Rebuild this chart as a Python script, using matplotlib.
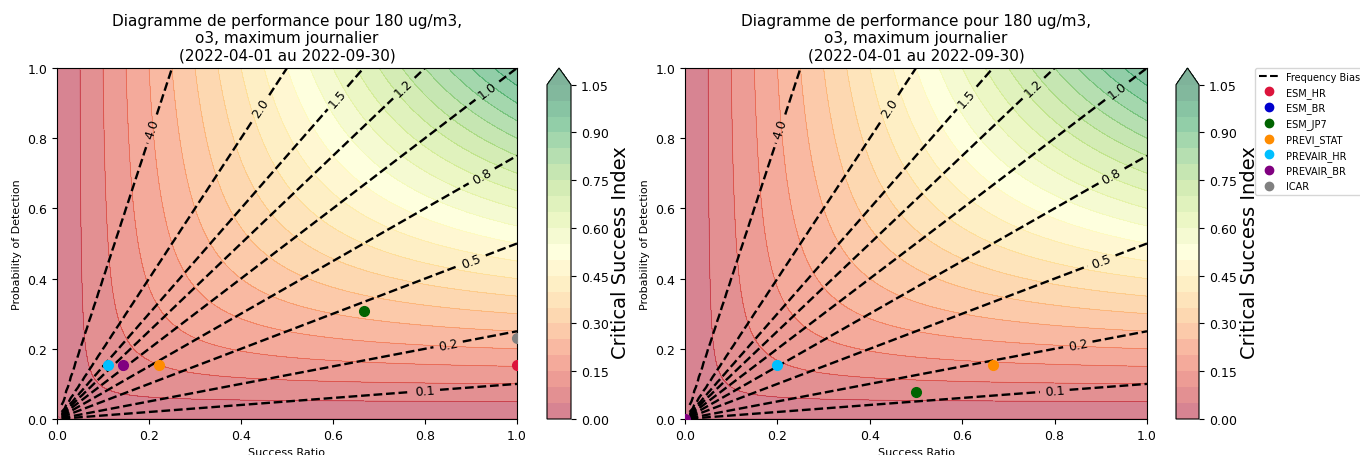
import numpy as np
import matplotlib
matplotlib.use("Agg")
from matplotlib import pyplot as plt
from matplotlib.lines import Line2D

# models and scores (success ratio, probability of detection) for both panels
models = ["ESM_HR", "ESM_BR", "ESM_JP7", "PREVI_STAT", "PREVAIR_HR", "PREVAIR_BR", "ICAR"]
colors = ["crimson", "mediumblue", "darkgreen", "darkorange", "deepskyblue", "purple", "gray"]

sr_left = [1.0, np.nan, 0.667, 0.222, 0.111, 0.143, 1.0]
pod_left = [0.154, np.nan, 0.308, 0.154, 0.154, 0.154, 0.231]

sr_right = [np.nan, np.nan, 0.5, 0.667, 0.2, 0.0, np.nan]
pod_right = [np.nan, np.nan, 0.077, 0.154, 0.154, 0.0, np.nan]

csi_levels = np.arange(0, 1.1, 0.05)
bias_levels = [0.1, 0.25, 0.5, 0.75, 1.0, 1.25, 1.5, 2.0, 4.0]
label_pos = [(0.80, 0.085), (0.85, 0.214), (0.90, 0.456), (0.92, 0.70),
             (0.93, 0.945), (0.756, 0.94), (0.60, 0.926), (0.44, 0.89), (0.20, 0.83)]

title = "Diagramme de performance pour 180 ug/m3,\no3, maximum journalier\n(2022-04-01 au 2022-09-30)"

grid = np.arange(0, 1.01, 0.01)
sr_g, pod_g = np.meshgrid(grid, grid)
with np.errstate(divide="ignore", invalid="ignore"):
    bias = np.ma.masked_invalid(pod_g / sr_g)
    csi = 1.0 / (1.0 / sr_g + 1.0 / pod_g - 1.0)
csi = np.nan_to_num(csi, nan=0.0)

fig = plt.figure(figsize=(13.6, 4.56), dpi=100)
W, H = 1360.0, 456.0


def box(x0, y0, x1, y1):
    return [x0 / W, 1 - y1 / H, (x1 - x0) / W, (y1 - y0) / H]


def panel(ax, cax, sr, pod):
    cs = ax.contourf(sr_g, pod_g, csi, csi_levels, extend="max", cmap="RdYlGn", alpha=0.5)
    ax.contour(sr_g, pod_g, csi, csi_levels, cmap="RdYlGn", alpha=0.35, linewidths=0.5)
    cb = fig.colorbar(cs, cax=cax)
    cb.set_ticks(np.arange(0, 1.06, 0.15))
    cb.ax.tick_params(labelsize=9)
    cb.set_label("Critical Success Index", fontsize=14, labelpad=2)
    bc = ax.contour(sr_g, pod_g, bias, bias_levels, colors="k", linestyles="dashed", linewidths=1.7)
    ax.clabel(bc, fmt="%1.1f", manual=label_pos, fontsize=9)
    for x, y, c in zip(sr, pod, colors):
        ax.plot(x, y, "o", color=c, markersize=7, zorder=5)
    ax.set_xlim(0, 1)
    ax.set_ylim(0, 1)
    ax.tick_params(labelsize=9)
    ax.set_xlabel("Success Ratio", fontsize=8)
    ax.set_ylabel("Probability of Detection", fontsize=8)
    ax.set_title(title, fontsize=11)


ax1 = fig.add_axes(box(57, 69, 517, 420))
cax1 = fig.add_axes(box(547, 69, 571, 420))
panel(ax1, cax1, sr_left, pod_left)

ax2 = fig.add_axes(box(685, 69, 1147, 420))
cax2 = fig.add_axes(box(1176, 69, 1199, 420))
panel(ax2, cax2, sr_right, pod_right)

handles = [Line2D([], [], color="k", linestyle="--", label="Frequency Bias")]
for m, c in zip(models, colors):
    handles.append(Line2D([], [], marker="o", color=c, linestyle="none", label=m))
fig.legend(handles=handles, loc="upper left", bbox_to_anchor=(1255 / W, 1 - 69 / H),
           fontsize=7, borderaxespad=0, handlelength=2)

plt.savefig("out.png", dpi=100)
